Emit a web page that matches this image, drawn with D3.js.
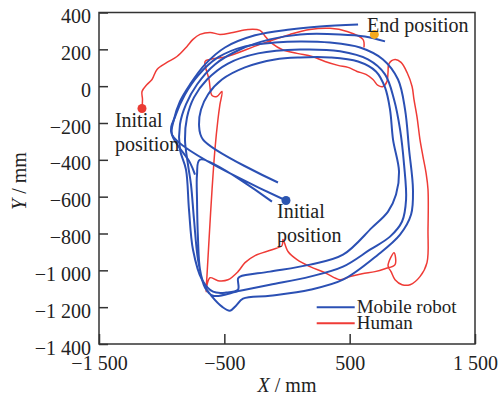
<!DOCTYPE html>
<html>
<head>
<meta charset="utf-8">
<script src="https://cdn.jsdelivr.net/npm/d3@7"></script>
<style>
  body { margin: 0; background: #fff; }
  svg text { font-family: "Liberation Serif", "Times New Roman", serif; fill: #222; }
</style>
</head>
<body>
<svg id="chart"></svg>
<script>
// trajectories in mm
const robotRunA = [
  [-8, -621], [-918, -263], [-886, -154], [-814, -45], [-710, 58], [-551, 156], [-335, 216],
  [-96, 237], [104, 243], [343, 237], [583, 210], [766, 145], [886, 36], [942, -127],
  [974, -344], [1005, -561], [990, -697], [902, -806], [726, -915], [447, -1051],
  [184, -1105], [-136, -1138], [-351, -1154], [-407, -1192], [-455, -1219], [-519, -1197],
  [-598, -1143], [-662, -1078], [-710, -942], [-742, -724], [-766, -534], [-790, -426],
  [-814, -290], [-798, -170], [-742, -61], [-638, 36], [-471, 123], [-231, 178], [104, 199],
  [423, 189], [646, 145], [782, 64], [854, -72], [902, -235], [934, -426], [950, -616],
  [918, -735], [822, -817], [662, -888], [447, -980], [184, -1034], [-136, -1078],
  [-375, -1111], [-590, -1138], [-654, -1094], [-694, -996], [-710, -833], [-718, -616],
  [-718, -480], [-694, -399], [-120, -627]
]
const robotRunB = [
  [-72, -523], [-670, -290], [-702, -208], [-686, -127], [-630, -45], [-519, 36], [-335, 102],
  [-96, 145], [104, 156], [343, 156], [567, 134], [710, 80], [782, -7], [822, -127],
  [846, -290], [894, -464], [870, -588], [806, -681], [678, -768], [447, -915], [184, -969],
  [-136, -1007], [-375, -1034], [-391, -1045], [-391, -1105], [-487, -1121], [-590, -1116],
  [-678, -1051], [-750, -888], [-782, -670], [-806, -453], [-854, -344], [-854, -208],
  [-806, -99], [-718, 9], [-575, 118], [-375, 199], [-136, 254], [104, 281], [423, 281],
  [622, 270], [782, 243]
]
const robotRunC = [
  [-734, -480], [-774, -415], [-918, -263], [-902, -181], [-854, -83], [-774, 9], [-654, 118],
  [-495, 210], [-255, 276], [24, 308], [263, 324], [567, 335]
]
const human = [
  [-1157, -121], [-1153, -72], [-1157, -29], [-1117, 9], [-1077, 36], [-1037, 91], [-958, 129],
  [-878, 161], [-798, 216], [-750, 254], [-694, 281], [-614, 292], [-535, 281], [-431, 292],
  [-311, 308], [-216, 303], [-168, 265], [-120, 232], [-40, 199], [80, 178], [200, 161],
  [303, 134], [407, 113], [487, 102], [559, 80], [630, 64], [686, 36], [726, 4], [766, -2],
  [798, 26], [806, 74], [814, 123], [862, 145], [910, 129], [958, 74], [998, -2], [1013, -72],
  [1037, -165], [1061, -290], [1085, -382], [1109, -469], [1125, -561], [1125, -779],
  [1117, -958], [1061, -1034], [982, -1078], [918, -1078], [862, -1051], [830, -1007],
  [806, -975], [854, -904], [862, -969], [782, -991], [702, -1007], [599, -1018], [503, -1034],
  [423, -1051], [303, -1013], [184, -980], [80, -942], [8, -898], [-32, -833], [-40, -866],
  [-120, -888], [-255, -920], [-335, -958], [-391, -1007], [-471, -1051], [-551, -1056],
  [-614, -1040], [-638, -1078], [-646, -1116], [-638, -1024], [-622, -833], [-598, -561],
  [-575, -344], [-551, -181], [-535, -99], [-519, -29], [-559, -56], [-598, -51], [-622, 36],
  [-654, 134], [-614, 145], [-479, 161], [-216, 227], [24, 281], [184, 308], [343, 314],
  [479, 297], [606, 254], [614, 210]
]

const humanStart = [-1157, -121]
const robotStart = [-8, -621]
const endPoint = [697, 281]

const xTicks = [-1500, -500, 500, 1500]
const yTicks = [400, 200, 0, -200, -400, -600, -800, -1000, -1200, -1400]

const notes = [
  { lines: ['Initial', 'position'], at: [-1373, -224] },
  { lines: ['Initial', 'position'], at: [-80, -714] },
  { lines: ['End position'], at: [638, 292] },
]
const legendItems = [
  { name: 'Mobile robot', color: '#2b50b4' },
  { name: 'Human', color: '#ef3b36' },
]

const width = 504
const height = 397
const margin = { top: 12.5, right: 29, bottom: 53, left: 99 }
const w = width - margin.left - margin.right
const h = height - margin.top - margin.bottom

const svg = d3.select('#chart')
  .attr('width', width)
  .attr('height', height)
const g = svg.append('g')
  .attr('transform', `translate(${margin.left},${margin.top})`)

const x = d3.scaleLinear().domain([-1500, 1500]).range([0, w])
const y = d3.scaleLinear().domain([-1400, 400]).range([h, 0])

const fmt = d3.formatLocale({
  decimal: '.', thousands: ' ', grouping: [3], currency: ['', ''], minus: '\u2212',
}).format(',d')

const line = d3.line()
  .x((d) => x(d[0]))
  .y((d) => y(d[1]))
  .curve(d3.curveCatmullRom.alpha(0.5))

// human under robot
g.append('path')
  .datum(human)
  .attr('d', line)
  .attr('fill', 'none')
  .attr('stroke', legendItems[1].color)
  .attr('stroke-width', 1.5)

g.selectAll('path.robot')
  .data([robotRunA, robotRunB, robotRunC])
  .enter().append('path')
    .attr('class', 'robot')
    .attr('d', line)
    .attr('fill', 'none')
    .attr('stroke', legendItems[0].color)
    .attr('stroke-width', 2)
    .attr('stroke-linejoin', 'round')

// axes, ticks pointing inward
const yAxis = g.append('g')
  .call(d3.axisLeft(y).tickValues(yTicks).tickFormat(fmt).tickSizeInner(-9).tickSizeOuter(0).tickPadding(8))
const xAxis = g.append('g')
  .attr('transform', `translate(0,${h})`)
  .call(d3.axisBottom(x).tickValues(xTicks).tickFormat(fmt).tickSizeInner(-10).tickSizeOuter(0).tickPadding(12))

;[xAxis, yAxis].forEach((ax) => {
  ax.select('.domain').remove()
  ax.selectAll('line').attr('stroke', '#333').attr('stroke-width', 1.5)
  ax.selectAll('text')
    .attr('fill', '#222')
    .style('font-family', '"Liberation Serif", serif')
    .style('font-size', '20px')
})
yAxis.selectAll('text').attr('dy', '0.5em')

g.append('rect')
  .attr('width', w)
  .attr('height', h)
  .attr('fill', 'none')
  .attr('stroke', '#333')
  .attr('stroke-width', 1.5)

// markers
g.append('circle').attr('cx', x(humanStart[0])).attr('cy', y(humanStart[1])).attr('r', 4.5).attr('fill', '#ea3b33')
g.append('circle').attr('cx', x(robotStart[0])).attr('cy', y(robotStart[1])).attr('r', 4.5).attr('fill', '#2b55b0')
g.append('circle').attr('cx', x(endPoint[0])).attr('cy', y(endPoint[1])).attr('r', 4.5).attr('fill', '#f5a91e')

notes.forEach((n) => {
  const t = g.append('text')
    .attr('x', x(n.at[0]))
    .attr('y', y(n.at[1]))
    .style('font-size', '20px')
  n.lines.forEach((s, i) => {
    t.append('tspan')
      .attr('x', x(n.at[0]))
      .attr('dy', i === 0 ? 0 : 24)
      .text(s)
  })
})

// legend, rows packed tight like the original
const legend = g.append('g')
  .attr('transform', `translate(${x(237)},${y(-1200)})`)
legendItems.forEach((d, i) => {
  const row = legend.append('g').attr('transform', `translate(0,${i * 16})`)
  row.append('line')
    .attr('x1', 0).attr('x2', 38)
    .attr('stroke', d.color)
    .attr('stroke-width', 2)
  row.append('text')
    .attr('x', 40)
    .attr('y', 6)
    .style('font-size', '19px')
    .text(d.name)
})

// axis titles
svg.append('text')
  .attr('x', margin.left + w / 2)
  .attr('y', 392)
  .attr('text-anchor', 'middle')
  .style('font-size', '20px')
  .call((t) => {
    t.append('tspan').attr('font-style', 'italic').text('X')
    t.append('tspan').text(' / mm')
  })

svg.append('text')
  .attr('transform', 'translate(26,181) rotate(-90)')
  .attr('text-anchor', 'middle')
  .style('font-size', '20px')
  .call((t) => {
    t.append('tspan').attr('font-style', 'italic').text('Y')
    t.append('tspan').text(' / mm')
  })
</script>
</body>
</html>
